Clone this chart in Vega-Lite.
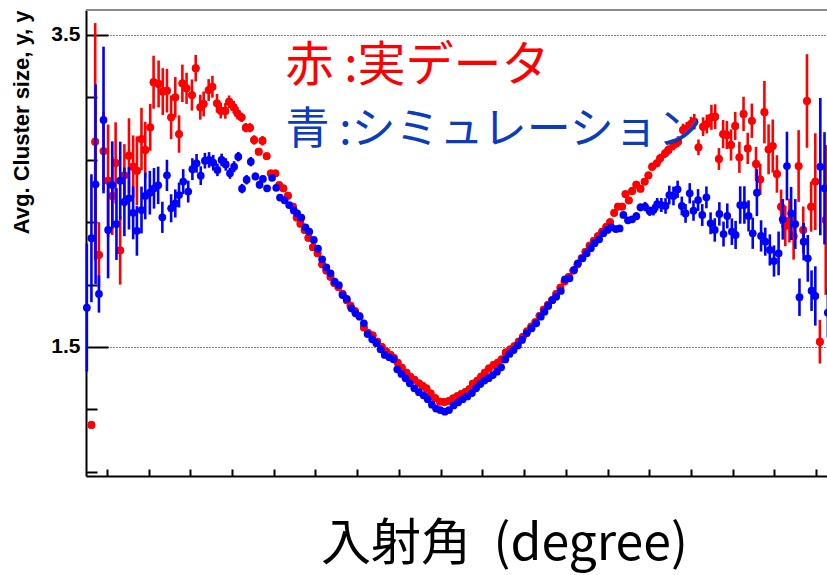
{
  "$schema": "https://vega.github.io/schema/vega-lite/v6.json",
  "width": 741,
  "height": 466,
  "autosize": {"type": "none"},
  "padding": {"left": 86, "top": 10, "right": 0, "bottom": 99},
  "background": "white",
  "config": {"view": {"stroke": null}, "font": "Liberation Sans"},
  "datasets": {
    "real": [
      {"x": -88.7, "y": 1.0, "e": 0.02}, {"x": -87.8, "y": 2.816, "e": 0.76}, {"x": -86.9, "y": 2.09, "e": 0.21},
      {"x": -85.8, "y": 2.756, "e": 0.25}, {"x": -84.7, "y": 2.566, "e": 0.36}, {"x": -83.7, "y": 2.468, "e": 0.25},
      {"x": -82.9, "y": 2.68, "e": 0.26}, {"x": -81.8, "y": 2.12, "e": 0.22}, {"x": -80.8, "y": 2.6, "e": 0.2},
      {"x": -79.7, "y": 2.726, "e": 0.24}, {"x": -78.7, "y": 2.656, "e": 0.2}, {"x": -77.8, "y": 2.63, "e": 0.22},
      {"x": -76.7, "y": 2.833, "e": 0.2}, {"x": -75.8, "y": 2.763, "e": 0.18}, {"x": -74.6, "y": 2.908, "e": 0.15},
      {"x": -73.8, "y": 3.197, "e": 0.17}, {"x": -72.6, "y": 3.186, "e": 0.15}, {"x": -71.6, "y": 3.137, "e": 0.15},
      {"x": -70.6, "y": 3.143, "e": 0.14}, {"x": -69.6, "y": 2.972, "e": 0.14}, {"x": -68.6, "y": 3.1, "e": 0.13},
      {"x": -67.7, "y": 2.865, "e": 0.12}, {"x": -66.9, "y": 3.19, "e": 0.12}, {"x": -65.9, "y": 3.158, "e": 0.1},
      {"x": -64.6, "y": 3.115, "e": 0.1}, {"x": -63.7, "y": 3.287, "e": 0.085}, {"x": -62.6, "y": 3.037, "e": 0.08},
      {"x": -61.8, "y": 3.058, "e": 0.08}, {"x": -60.6, "y": 3.147, "e": 0.07}, {"x": -59.7, "y": 3.168, "e": 0.07},
      {"x": -58.6, "y": 3.062, "e": 0.06}, {"x": -57.7, "y": 3.015, "e": 0.05}, {"x": -56.6, "y": 3.013, "e": 0.05},
      {"x": -55.7, "y": 3.072, "e": 0.04}, {"x": -54.6, "y": 3.037, "e": 0.04}, {"x": -53.7, "y": 2.998, "e": 0.04},
      {"x": -52.7, "y": 2.972, "e": 0.03}, {"x": -51.7, "y": 2.906, "e": 0.03}, {"x": -50.7, "y": 2.906, "e": 0.03},
      {"x": -49.7, "y": 2.827, "e": 0.03}, {"x": -48.6, "y": 2.752, "e": 0.02}, {"x": -47.7, "y": 2.822, "e": 0.03},
      {"x": -46.7, "y": 2.724, "e": 0.02}, {"x": -45.7, "y": 2.613, "e": 0.02}, {"x": -44.6, "y": 2.613, "e": 0.02},
      {"x": -43.7, "y": 2.538, "e": 0.02}, {"x": -42.7, "y": 2.517, "e": 0.02}, {"x": -41.6, "y": 2.47, "e": 0.02},
      {"x": -40.4, "y": 2.4, "e": 0.015}, {"x": -39.5, "y": 2.33, "e": 0.01}, {"x": -38.6, "y": 2.29, "e": 0.01},
      {"x": -37.6, "y": 2.25, "e": 0.01}, {"x": -36.7, "y": 2.2, "e": 0.01}, {"x": -35.6, "y": 2.14, "e": 0.01},
      {"x": -34.5, "y": 2.1, "e": 0.01}, {"x": -33.4, "y": 2.03, "e": 0.01}, {"x": -32.4, "y": 1.99, "e": 0.01},
      {"x": -31.4, "y": 1.95, "e": 0.01}, {"x": -30.5, "y": 1.91, "e": 0.01}, {"x": -29.5, "y": 1.885, "e": 0.01},
      {"x": -28.5, "y": 1.84, "e": 0.01}, {"x": -27.5, "y": 1.8, "e": 0.01}, {"x": -26.6, "y": 1.765, "e": 0.01},
      {"x": -25.5, "y": 1.73, "e": 0.01}, {"x": -24.5, "y": 1.7, "e": 0.01}, {"x": -23.4, "y": 1.625, "e": 0.01},
      {"x": -22.4, "y": 1.59, "e": 0.01}, {"x": -21.3, "y": 1.575, "e": 0.01}, {"x": -20.2, "y": 1.535, "e": 0.01},
      {"x": -19.1, "y": 1.5, "e": 0.01}, {"x": -18.0, "y": 1.47, "e": 0.01}, {"x": -17.0, "y": 1.45, "e": 0.01},
      {"x": -16.2, "y": 1.43, "e": 0.01}, {"x": -15.3, "y": 1.4, "e": 0.01}, {"x": -14.3, "y": 1.368, "e": 0.01},
      {"x": -13.2, "y": 1.335, "e": 0.01}, {"x": -12.3, "y": 1.31, "e": 0.01}, {"x": -11.3, "y": 1.29, "e": 0.01},
      {"x": -10.2, "y": 1.267, "e": 0.01}, {"x": -9.3, "y": 1.25, "e": 0.01}, {"x": -8.4, "y": 1.235, "e": 0.01},
      {"x": -7.4, "y": 1.203, "e": 0.01}, {"x": -6.3, "y": 1.172, "e": 0.01}, {"x": -5.2, "y": 1.15, "e": 0.01},
      {"x": -4.1, "y": 1.148, "e": 0.01}, {"x": -3.0, "y": 1.155, "e": 0.01}, {"x": -2.0, "y": 1.17, "e": 0.01},
      {"x": -1.0, "y": 1.185, "e": 0.01}, {"x": 0.0, "y": 1.199, "e": 0.01}, {"x": 1.0, "y": 1.213, "e": 0.01},
      {"x": 1.9, "y": 1.23, "e": 0.01}, {"x": 2.7, "y": 1.265, "e": 0.01}, {"x": 3.8, "y": 1.285, "e": 0.01},
      {"x": 4.7, "y": 1.31, "e": 0.01}, {"x": 5.6, "y": 1.335, "e": 0.01}, {"x": 6.6, "y": 1.363, "e": 0.01},
      {"x": 7.7, "y": 1.385, "e": 0.01}, {"x": 8.7, "y": 1.4, "e": 0.01}, {"x": 9.6, "y": 1.42, "e": 0.01},
      {"x": 10.6, "y": 1.465, "e": 0.01}, {"x": 11.7, "y": 1.485, "e": 0.01}, {"x": 12.7, "y": 1.505, "e": 0.01},
      {"x": 13.7, "y": 1.535, "e": 0.01}, {"x": 14.7, "y": 1.565, "e": 0.01}, {"x": 15.7, "y": 1.6, "e": 0.01},
      {"x": 16.7, "y": 1.63, "e": 0.01}, {"x": 17.7, "y": 1.66, "e": 0.01}, {"x": 18.7, "y": 1.7, "e": 0.01},
      {"x": 19.7, "y": 1.74, "e": 0.01}, {"x": 20.7, "y": 1.77, "e": 0.01}, {"x": 21.7, "y": 1.8, "e": 0.01},
      {"x": 22.7, "y": 1.84, "e": 0.01}, {"x": 23.7, "y": 1.88, "e": 0.01}, {"x": 24.7, "y": 1.92, "e": 0.01},
      {"x": 25.7, "y": 1.95, "e": 0.01}, {"x": 26.8, "y": 1.99, "e": 0.01}, {"x": 27.8, "y": 2.03, "e": 0.01},
      {"x": 28.8, "y": 2.07, "e": 0.01}, {"x": 29.7, "y": 2.11, "e": 0.01}, {"x": 30.7, "y": 2.15, "e": 0.01},
      {"x": 31.7, "y": 2.18, "e": 0.01}, {"x": 32.7, "y": 2.21, "e": 0.01}, {"x": 33.7, "y": 2.24, "e": 0.01},
      {"x": 34.7, "y": 2.27, "e": 0.01}, {"x": 35.6, "y": 2.3, "e": 0.012}, {"x": 36.6, "y": 2.36, "e": 0.012},
      {"x": 37.5, "y": 2.4, "e": 0.012}, {"x": 38.5, "y": 2.4, "e": 0.015}, {"x": 39.3, "y": 2.48, "e": 0.015},
      {"x": 40.1, "y": 2.44, "e": 0.015}, {"x": 40.9, "y": 2.5, "e": 0.015}, {"x": 41.9, "y": 2.54, "e": 0.02},
      {"x": 42.9, "y": 2.515, "e": 0.02}, {"x": 43.9, "y": 2.56, "e": 0.02}, {"x": 44.8, "y": 2.6, "e": 0.02},
      {"x": 45.7, "y": 2.656, "e": 0.025}, {"x": 46.8, "y": 2.677, "e": 0.025}, {"x": 47.6, "y": 2.709, "e": 0.03},
      {"x": 48.8, "y": 2.741, "e": 0.03}, {"x": 49.6, "y": 2.763, "e": 0.03}, {"x": 50.8, "y": 2.795, "e": 0.035},
      {"x": 51.9, "y": 2.816, "e": 0.035}, {"x": 53.1, "y": 2.891, "e": 0.04}, {"x": 54.0, "y": 2.902, "e": 0.04},
      {"x": 55.0, "y": 2.93, "e": 0.045}, {"x": 55.8, "y": 2.944, "e": 0.05}, {"x": 56.8, "y": 2.78, "e": 0.05},
      {"x": 57.9, "y": 2.912, "e": 0.06}, {"x": 58.8, "y": 2.929, "e": 0.06}, {"x": 59.9, "y": 2.972, "e": 0.08},
      {"x": 60.8, "y": 2.976, "e": 0.08}, {"x": 61.7, "y": 2.705, "e": 0.07}, {"x": 62.7, "y": 2.865, "e": 0.09},
      {"x": 63.6, "y": 2.859, "e": 0.09}, {"x": 64.6, "y": 2.795, "e": 0.1}, {"x": 65.6, "y": 2.917, "e": 0.09},
      {"x": 66.6, "y": 2.716, "e": 0.1}, {"x": 67.6, "y": 2.994, "e": 0.11}, {"x": 68.6, "y": 2.773, "e": 0.1},
      {"x": 69.6, "y": 2.95, "e": 0.11}, {"x": 70.6, "y": 2.673, "e": 0.11}, {"x": 71.6, "y": 2.575, "e": 0.1},
      {"x": 72.6, "y": 3.005, "e": 0.2}, {"x": 73.6, "y": 2.767, "e": 0.16}, {"x": 74.6, "y": 2.788, "e": 0.17},
      {"x": 75.6, "y": 2.609, "e": 0.12}, {"x": 76.6, "y": 2.399, "e": 0.11}, {"x": 77.6, "y": 2.276, "e": 0.13},
      {"x": 78.6, "y": 2.31, "e": 0.14}, {"x": 79.6, "y": 2.21, "e": 0.15}, {"x": 80.8, "y": 2.66, "e": 0.23},
      {"x": 81.9, "y": 2.25, "e": 0.15}, {"x": 82.8, "y": 3.077, "e": 0.3}, {"x": 83.8, "y": 2.399, "e": 0.16},
      {"x": 84.8, "y": 2.56, "e": 0.31}, {"x": 85.9, "y": 1.534, "e": 0.14}, {"x": 87.3, "y": 2.314, "e": 0.48}
    ],
    "sim": [
      {"x": -89.8, "y": 1.752, "e": 0.41}, {"x": -88.7, "y": 2.197, "e": 0.41}, {"x": -87.7, "y": 2.543, "e": 0.64},
      {"x": -86.9, "y": 1.84, "e": 0.12}, {"x": -85.8, "y": 2.955, "e": 0.47}, {"x": -84.7, "y": 2.25, "e": 0.31},
      {"x": -83.7, "y": 2.538, "e": 0.28}, {"x": -82.7, "y": 2.288, "e": 0.23}, {"x": -81.8, "y": 2.566, "e": 0.25},
      {"x": -80.8, "y": 2.43, "e": 0.22}, {"x": -79.7, "y": 2.453, "e": 0.2}, {"x": -78.7, "y": 2.36, "e": 0.17},
      {"x": -77.8, "y": 2.245, "e": 0.16}, {"x": -76.7, "y": 2.378, "e": 0.15}, {"x": -75.8, "y": 2.468, "e": 0.15},
      {"x": -74.7, "y": 2.489, "e": 0.14}, {"x": -73.7, "y": 2.517, "e": 0.13}, {"x": -72.7, "y": 2.536, "e": 0.12},
      {"x": -71.7, "y": 2.331, "e": 0.1}, {"x": -70.6, "y": 2.6, "e": 0.1}, {"x": -69.6, "y": 2.389, "e": 0.09},
      {"x": -68.6, "y": 2.42, "e": 0.09}, {"x": -67.7, "y": 2.474, "e": 0.08}, {"x": -66.7, "y": 2.56, "e": 0.08},
      {"x": -65.5, "y": 2.496, "e": 0.07}, {"x": -64.5, "y": 2.64, "e": 0.07}, {"x": -63.5, "y": 2.677, "e": 0.06},
      {"x": -62.5, "y": 2.598, "e": 0.06}, {"x": -61.5, "y": 2.694, "e": 0.05}, {"x": -60.5, "y": 2.699, "e": 0.05},
      {"x": -59.5, "y": 2.681, "e": 0.05}, {"x": -58.5, "y": 2.635, "e": 0.04}, {"x": -57.5, "y": 2.699, "e": 0.04},
      {"x": -56.5, "y": 2.67, "e": 0.04}, {"x": -55.5, "y": 2.613, "e": 0.035}, {"x": -54.5, "y": 2.656, "e": 0.035},
      {"x": -53.5, "y": 2.72, "e": 0.03}, {"x": -52.6, "y": 2.515, "e": 0.03}, {"x": -51.5, "y": 2.572, "e": 0.03},
      {"x": -50.5, "y": 2.688, "e": 0.03}, {"x": -49.4, "y": 2.593, "e": 0.025}, {"x": -48.4, "y": 2.54, "e": 0.025},
      {"x": -47.6, "y": 2.577, "e": 0.02}, {"x": -46.6, "y": 2.517, "e": 0.02}, {"x": -45.4, "y": 2.584, "e": 0.02},
      {"x": -44.4, "y": 2.52, "e": 0.02}, {"x": -43.5, "y": 2.458, "e": 0.02}, {"x": -42.4, "y": 2.44, "e": 0.02},
      {"x": -41.3, "y": 2.41, "e": 0.015}, {"x": -40.2, "y": 2.375, "e": 0.01}, {"x": -39.4, "y": 2.357, "e": 0.01},
      {"x": -38.4, "y": 2.329, "e": 0.01}, {"x": -37.4, "y": 2.267, "e": 0.01}, {"x": -36.5, "y": 2.239, "e": 0.01},
      {"x": -35.4, "y": 2.186, "e": 0.01}, {"x": -34.4, "y": 2.13, "e": 0.01}, {"x": -33.4, "y": 2.062, "e": 0.01},
      {"x": -32.4, "y": 2.011, "e": 0.01}, {"x": -31.4, "y": 1.972, "e": 0.01}, {"x": -30.4, "y": 1.919, "e": 0.01},
      {"x": -29.4, "y": 1.897, "e": 0.01}, {"x": -28.5, "y": 1.833, "e": 0.01}, {"x": -27.5, "y": 1.808, "e": 0.01},
      {"x": -26.4, "y": 1.748, "e": 0.01}, {"x": -25.4, "y": 1.716, "e": 0.01}, {"x": -24.4, "y": 1.694, "e": 0.01},
      {"x": -23.4, "y": 1.652, "e": 0.01}, {"x": -22.5, "y": 1.583, "e": 0.01}, {"x": -21.4, "y": 1.549, "e": 0.01},
      {"x": -20.4, "y": 1.524, "e": 0.01}, {"x": -19.4, "y": 1.485, "e": 0.01}, {"x": -18.4, "y": 1.449, "e": 0.01},
      {"x": -17.3, "y": 1.434, "e": 0.01}, {"x": -16.3, "y": 1.421, "e": 0.01}, {"x": -15.4, "y": 1.357, "e": 0.01},
      {"x": -14.4, "y": 1.327, "e": 0.01}, {"x": -13.4, "y": 1.299, "e": 0.01}, {"x": -12.4, "y": 1.267, "e": 0.01},
      {"x": -11.3, "y": 1.235, "e": 0.01}, {"x": -10.2, "y": 1.21, "e": 0.01}, {"x": -9.1, "y": 1.19, "e": 0.01},
      {"x": -8.1, "y": 1.165, "e": 0.01}, {"x": -7.1, "y": 1.13, "e": 0.01}, {"x": -6.1, "y": 1.105, "e": 0.01},
      {"x": -5.1, "y": 1.096, "e": 0.01}, {"x": -4.0, "y": 1.085, "e": 0.01}, {"x": -3.0, "y": 1.096, "e": 0.01},
      {"x": -1.9, "y": 1.125, "e": 0.01}, {"x": -0.8, "y": 1.145, "e": 0.01}, {"x": 0.3, "y": 1.165, "e": 0.01},
      {"x": 1.4, "y": 1.183, "e": 0.01}, {"x": 2.5, "y": 1.205, "e": 0.01}, {"x": 3.5, "y": 1.235, "e": 0.01},
      {"x": 4.5, "y": 1.262, "e": 0.01}, {"x": 5.5, "y": 1.285, "e": 0.01}, {"x": 6.5, "y": 1.3, "e": 0.01},
      {"x": 7.5, "y": 1.32, "e": 0.01}, {"x": 8.5, "y": 1.342, "e": 0.01}, {"x": 9.5, "y": 1.37, "e": 0.01},
      {"x": 10.5, "y": 1.42, "e": 0.01}, {"x": 11.5, "y": 1.455, "e": 0.01}, {"x": 12.5, "y": 1.48, "e": 0.01},
      {"x": 13.5, "y": 1.51, "e": 0.01}, {"x": 14.5, "y": 1.545, "e": 0.01}, {"x": 15.6, "y": 1.588, "e": 0.01},
      {"x": 16.8, "y": 1.62, "e": 0.01}, {"x": 17.9, "y": 1.652, "e": 0.01}, {"x": 19.0, "y": 1.694, "e": 0.01},
      {"x": 19.9, "y": 1.726, "e": 0.01}, {"x": 20.8, "y": 1.763, "e": 0.01}, {"x": 21.8, "y": 1.801, "e": 0.01},
      {"x": 22.7, "y": 1.822, "e": 0.01}, {"x": 23.8, "y": 1.859, "e": 0.01}, {"x": 24.8, "y": 1.934, "e": 0.01},
      {"x": 25.9, "y": 1.94, "e": 0.01}, {"x": 27.0, "y": 1.994, "e": 0.01}, {"x": 27.9, "y": 2.036, "e": 0.01},
      {"x": 29.0, "y": 2.068, "e": 0.01}, {"x": 30.0, "y": 2.1, "e": 0.01}, {"x": 31.0, "y": 2.133, "e": 0.01},
      {"x": 31.9, "y": 2.165, "e": 0.01}, {"x": 33.0, "y": 2.19, "e": 0.01}, {"x": 34.0, "y": 2.229, "e": 0.012},
      {"x": 35.0, "y": 2.25, "e": 0.012}, {"x": 35.9, "y": 2.267, "e": 0.012}, {"x": 37.0, "y": 2.256, "e": 0.015},
      {"x": 37.9, "y": 2.26, "e": 0.015}, {"x": 38.8, "y": 2.346, "e": 0.02}, {"x": 39.9, "y": 2.312, "e": 0.02},
      {"x": 40.9, "y": 2.318, "e": 0.02}, {"x": 41.9, "y": 2.338, "e": 0.025}, {"x": 42.9, "y": 2.395, "e": 0.025},
      {"x": 44.0, "y": 2.4, "e": 0.03}, {"x": 45.1, "y": 2.37, "e": 0.03}, {"x": 46.0, "y": 2.378, "e": 0.035},
      {"x": 46.9, "y": 2.415, "e": 0.04}, {"x": 47.9, "y": 2.41, "e": 0.045}, {"x": 48.9, "y": 2.404, "e": 0.05},
      {"x": 49.8, "y": 2.474, "e": 0.06}, {"x": 50.8, "y": 2.468, "e": 0.06}, {"x": 51.8, "y": 2.511, "e": 0.055},
      {"x": 52.8, "y": 2.404, "e": 0.06}, {"x": 53.7, "y": 2.356, "e": 0.06}, {"x": 54.7, "y": 2.485, "e": 0.065},
      {"x": 55.6, "y": 2.374, "e": 0.065}, {"x": 56.7, "y": 2.442, "e": 0.07}, {"x": 57.7, "y": 2.346, "e": 0.07},
      {"x": 58.7, "y": 2.459, "e": 0.07}, {"x": 59.7, "y": 2.293, "e": 0.07}, {"x": 60.7, "y": 2.25, "e": 0.075},
      {"x": 61.8, "y": 2.353, "e": 0.075}, {"x": 62.8, "y": 2.224, "e": 0.08}, {"x": 63.7, "y": 2.34, "e": 0.08},
      {"x": 64.8, "y": 2.239, "e": 0.085}, {"x": 65.7, "y": 2.218, "e": 0.09}, {"x": 66.8, "y": 2.41, "e": 0.12},
      {"x": 67.8, "y": 2.41, "e": 0.12}, {"x": 68.8, "y": 2.34, "e": 0.1}, {"x": 69.8, "y": 2.229, "e": 0.1},
      {"x": 70.8, "y": 2.489, "e": 0.15}, {"x": 71.8, "y": 2.212, "e": 0.1}, {"x": 72.8, "y": 2.175, "e": 0.09},
      {"x": 73.9, "y": 2.122, "e": 0.1}, {"x": 74.9, "y": 2.051, "e": 0.1}, {"x": 76.0, "y": 2.1, "e": 0.14},
      {"x": 77.0, "y": 2.318, "e": 0.13}, {"x": 78.0, "y": 2.66, "e": 0.22}, {"x": 79.0, "y": 2.356, "e": 0.17},
      {"x": 80.0, "y": 2.288, "e": 0.16}, {"x": 81.0, "y": 1.819, "e": 0.12}, {"x": 82.0, "y": 2.175, "e": 0.12},
      {"x": 83.0, "y": 2.068, "e": 0.15}, {"x": 83.9, "y": 1.861, "e": 0.13}, {"x": 84.8, "y": 1.827, "e": 0.19},
      {"x": 86.0, "y": 2.656, "e": 0.44}, {"x": 87.0, "y": 2.517, "e": 0.36}, {"x": 87.8, "y": 1.72, "e": 0.16}
    ]
  },
  "layer": [
    {
      "data": {"name": "real"},
      "mark": {"type": "circle", "size": 60, "color": "#ff0000", "opacity": 1},
      "encoding": {
        "x": {
          "field": "x", "type": "quantitative",
          "scale": {"domain": [-90, 87.6], "nice": false, "zero": false},
          "axis": {
            "orient": "bottom",
            "values": [-85, -80, -75, -70, -65, -60, -55, -50, -45, -40, -35, -30, -25, -20, -15, -10, -5, 0, 5, 10, 15, 20, 25, 30, 35, 40, 45, 50, 55, 60, 65, 70, 75, 80, 85],
            "ticks": true, "tickColor": "#000000", "tickWidth": 2,
            "tickSize": {"condition": {"test": "datum.value % 20 === 0", "value": -13}, "value": -7},
            "grid": true, "gridColor": "#555555", "gridDash": [1, 2], "gridWidth": 1,
            "gridOpacity": {"condition": {"test": "datum.value % 20 === 0", "value": 1}, "value": 0},
            "domain": true, "domainColor": "#000000", "domainWidth": 2,
            "labelExpr": "datum.value % 20 === 0 ? '' + datum.value : ''",
            "labelFont": "Liberation Sans Narrow, Liberation Sans",
            "labelFontWeight": "bold", "labelFontSize": 23, "labelColor": "#000000", "labelPadding": 19,
            "labelFlush": false, "labelOverlap": false, "labelBaseline": "top",
            "title": "入射角 \u00a0(degree)", "titleFont": "Noto Sans CJK JP", "titleFontSize": 50,
            "titleFontWeight": "normal", "titleColor": "#000000", "titleX": 418, "titleY": 83,
            "titleAlign": "center", "titleBaseline": "alphabetic"
          }
        },
        "y": {
          "field": "y", "type": "quantitative",
          "scale": {"domain": [0.673, 3.66], "nice": false, "zero": false},
          "axis": {
            "orient": "left",
            "values": [0.7, 0.8, 0.9, 1, 1.1, 1.2, 1.3, 1.4, 1.5, 1.6, 1.7, 1.8, 1.9, 2, 2.1, 2.2, 2.3, 2.4, 2.5, 2.6, 2.7, 2.8, 2.9, 3, 3.1, 3.2, 3.3, 3.4, 3.5, 3.6],
            "ticks": true, "tickColor": "#000000", "tickWidth": 2,
            "tickSize": {"condition": {"test": "abs(datum.value * 2 - round(datum.value * 2)) < 0.001", "value": -22}, "value": -11},
            "grid": true, "gridColor": "#000000", "gridDash": [1, 2], "gridWidth": 1,
            "gridOpacity": {"condition": {"test": "abs(datum.value * 2 - round(datum.value * 2)) < 0.001", "value": 1}, "value": 0},
            "domain": true, "domainColor": "#000000", "domainWidth": 2,
            "labelExpr": "abs(datum.value * 2 - round(datum.value * 2)) < 0.001 ? '' + datum.value : ''",
            "labelFont": "Liberation Sans", "labelFontWeight": "bold",
            "labelFontSize": 21, "labelColor": "#000000", "labelPadding": 28, "labelFlush": false, "labelOverlap": false,
            "title": "Avg. Cluster size", "titleFont": "Liberation Sans", "titleFontWeight": "bold",
            "titleFontSize": 22, "titleColor": "#000000", "titleAngle": -90, "titleX": -58, "titleY": 0,
            "titleAlign": "right", "titleBaseline": "alphabetic"
          }
        }
      }
    },
    {
      "data": {"values": [{}]},
      "mark": {"type": "rule", "color": "#8c8c8c", "strokeWidth": 2},
      "encoding": {
        "y": {"datum": 3.66, "type": "quantitative"}
      }
    },
    {
      "data": {"name": "real"},
      "mark": {"type": "errorbar", "ticks": false, "thickness": 2.6, "color": "#ff0000"},
      "encoding": {
        "x": {"field": "x", "type": "quantitative"},
        "y": {"field": "y", "type": "quantitative"},
        "yError": {"field": "e"}
      }
    },
    {
      "data": {"name": "real"},
      "mark": {"type": "circle", "size": 60, "color": "#ff0000", "opacity": 1},
      "encoding": {
        "x": {"field": "x", "type": "quantitative"},
        "y": {"field": "y", "type": "quantitative"}
      }
    },
    {
      "data": {"name": "sim"},
      "mark": {"type": "errorbar", "ticks": false, "thickness": 2.6, "color": "#0000ff"},
      "encoding": {
        "x": {"field": "x", "type": "quantitative"},
        "y": {"field": "y", "type": "quantitative"},
        "yError": {"field": "e"}
      }
    },
    {
      "data": {"name": "sim"},
      "mark": {"type": "circle", "size": 60, "color": "#0000ff", "opacity": 1},
      "encoding": {
        "x": {"field": "x", "type": "quantitative"},
        "y": {"field": "y", "type": "quantitative"}
      }
    },
    {
      "data": {"values": [{}]},
      "mark": {"type": "text", "text": "赤 :実データ", "font": "Noto Sans CJK JP", "fontSize": 48, "color": "#ff0000", "align": "left", "baseline": "middle"},
      "encoding": {
        "x": {"datum": -42.2, "type": "quantitative"},
        "y": {"datum": 3.292, "type": "quantitative"}
      }
    },
    {
      "data": {"values": [{}]},
      "mark": {"type": "text", "text": "青 :シミュレーション", "font": "Noto Sans CJK JP", "fontSize": 44, "color": "#0b3bbf", "align": "left", "baseline": "middle"},
      "encoding": {
        "x": {"datum": -42.2, "type": "quantitative"},
        "y": {"datum": 2.885, "type": "quantitative"}
      }
    }
  ]
}
